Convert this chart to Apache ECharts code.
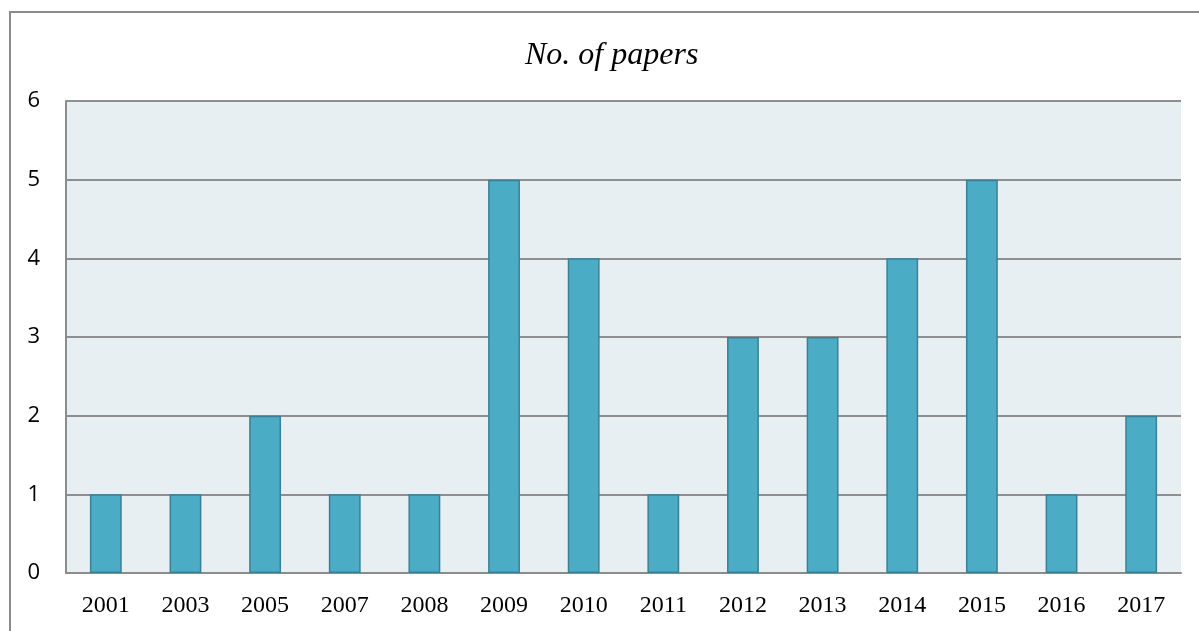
<!DOCTYPE html>
<html>
<head>
<meta charset="utf-8">
<script src="https://cdn.jsdelivr.net/npm/echarts@6/dist/echarts.min.js"></script>
<style>
html,body{margin:0;padding:0;background:#fff;}
#chart{width:1199px;height:631px;}
</style>
</head>
<body>
<div id="chart"></div>
<script>
const years = ['2001','2003','2005','2007','2008','2009','2010','2011','2012','2013','2014','2015','2016','2017'];
const papers = [1,1,2,1,1,5,4,1,3,3,4,5,1,2];
const yTicks = {min:0, max:6, interval:1};
const titleText = 'No. of papers';

const chart = echarts.init(document.getElementById('chart'));
chart.setOption({
  animation:false,
  backgroundColor:'#ffffff',
  title:{
    text:titleText, left:520, top:35,
    textStyle:{fontFamily:'Liberation Serif', fontStyle:'italic', fontWeight:'normal', fontSize:32, color:'#000'}
  },
  graphic:[{
    type:'rect', z:-1, silent:true,
    shape:{x:10, y:12, width:1210, height:640},
    style:{fill:null, stroke:'#8c8c8c', lineWidth:2}
  }],
  grid:{
    left:66, right:18, top:101, bottom:58,
    show:true, backgroundColor:'#e8eff3', borderWidth:0
  },
  xAxis:{
    type:'category', data:years,
    axisLine:{show:true, lineStyle:{color:'#8c8c8c', width:2}},
    axisTick:{show:false},
    axisLabel:{fontFamily:'Liberation Serif', fontSize:24, color:'#000', margin:21}
  },
  yAxis:{
    type:'value', min:yTicks.min, max:yTicks.max, interval:yTicks.interval,
    axisLine:{show:true, lineStyle:{color:'#8c8c8c', width:2}},
    axisTick:{show:false},
    splitLine:{show:true, lineStyle:{color:'#8e8e8e', width:2}},
    axisLabel:{fontFamily:'Open Sans', fontSize:22, color:'#000', margin:26}
  },
  series:[{
    type:'bar', data:papers, barWidth:'40%',
    itemStyle:{color:'#4aacc5', borderColor:'#3a8198', borderWidth:1.5}
  }]
});
</script>
</body>
</html>
